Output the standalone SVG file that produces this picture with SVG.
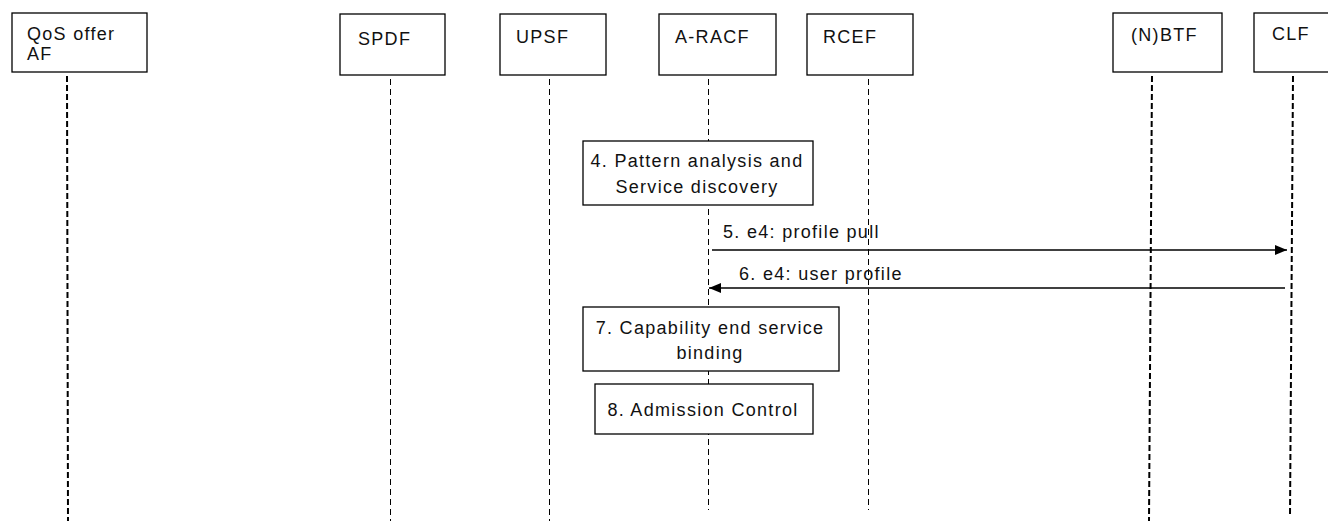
<svg xmlns="http://www.w3.org/2000/svg" width="1328" height="521" viewBox="0 0 1328 521">
<style>
.box{fill:#fff;stroke:#000;stroke-width:1.3}
.t{font-family:"Liberation Sans",Arial,sans-serif;font-size:18px;letter-spacing:1.3px;fill:#111}
.c{text-anchor:middle}
.ll{stroke:#000;stroke-width:1;stroke-dasharray:6 4;fill:none}
.llb{stroke:#000;stroke-width:2;stroke-dasharray:6 3;fill:none}
.msg{stroke:#000;stroke-width:1.5;fill:none}
</style>
<defs>
<marker id="ah" markerWidth="12" markerHeight="10" refX="12" refY="5" orient="auto" markerUnits="userSpaceOnUse">
<path d="M0,0 L12,5 L0,10 Z" fill="#000"/>
</marker>
</defs>
<g id="lifelines">
<line class="llb" x1="67" y1="76" x2="68" y2="521"/>
<line class="ll" x1="390.5" y1="79" x2="390.5" y2="521"/>
<line class="ll" x1="549.5" y1="79" x2="549.5" y2="521"/>
<line class="ll" x1="708.5" y1="79" x2="708.5" y2="510"/>
<line class="ll" x1="868.5" y1="79" x2="868.5" y2="510"/>
<line class="llb" x1="1152" y1="76" x2="1149" y2="521"/>
<line class="llb" x1="1293" y1="76" x2="1290" y2="516"/>
</g>
<g id="n-qos"><rect class="box" x="12" y="13" width="135" height="59"/><text class="t" x="27" y="40">QoS offer</text><text class="t" x="27" y="60">AF</text></g>
<g id="n-spdf"><rect class="box" x="340" y="14" width="105" height="61"/><text class="t" x="358" y="45">SPDF</text></g>
<g id="n-upsf"><rect class="box" x="500" y="14" width="106" height="61"/><text class="t" x="516" y="43">UPSF</text></g>
<g id="n-aracf"><rect class="box" x="659" y="14" width="117" height="61"/><text class="t" x="675" y="43">A-RACF</text></g>
<g id="n-rcef"><rect class="box" x="807" y="14" width="106" height="61"/><text class="t" x="823" y="43">RCEF</text></g>
<g id="n-nbtf"><rect class="box" x="1113" y="13" width="109" height="59"/><text class="t" x="1131" y="41">(N)BTF</text></g>
<g id="n-clf"><rect class="box" x="1254" y="13" width="90" height="59"/><text class="t" x="1272" y="40">CLF</text></g>
<g id="n-step4"><rect class="box" x="583" y="141" width="230" height="64"/><text class="t c" x="697" y="167">4. Pattern analysis and</text><text class="t c" x="697" y="193">Service discovery</text></g>
<g id="n-step7"><rect class="box" x="583" y="307" width="256" height="64"/><text class="t c" x="710" y="334">7. Capability end service</text><text class="t c" x="710" y="359">binding</text></g>
<g id="n-step8"><rect class="box" x="595" y="384" width="218" height="50"/><text class="t c" x="703" y="416">8. Admission Control</text></g>
<g id="connectors">
<line class="msg" x1="712" y1="250" x2="1287" y2="250" marker-end="url(#ah)"/>
<text class="t" x="723" y="238">5. e4: profile pull</text>
<line class="msg" x1="1285" y1="288" x2="709" y2="288" marker-end="url(#ah)"/>
<text class="t" x="739" y="280">6. e4: user profile</text>
</g>
</svg>
